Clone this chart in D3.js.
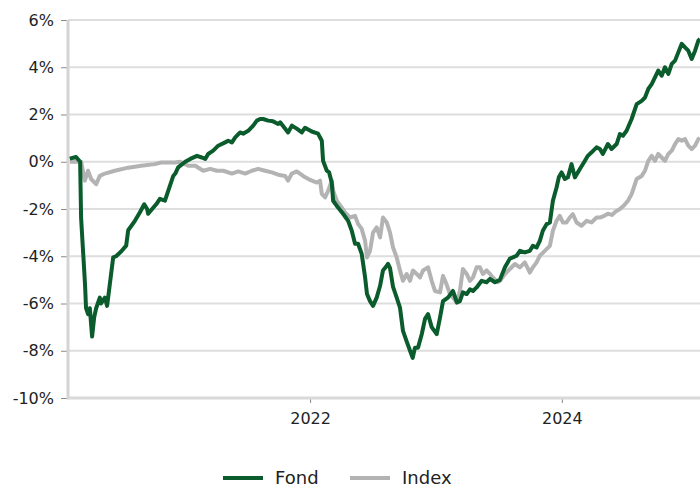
<!DOCTYPE html>
<html lang="en">
<head>
    <meta charset="UTF-8">
    <title>Fond vs Index</title>
    <script src="https://d3js.org/d3.v7.min.js"></script>
    <style>
        body { margin: 0; background: #fff; }
        .tick-label { font-family: "DejaVu Sans", Verdana, sans-serif; font-size: 16px; fill: #222; }
        .legend-text { font-family: "DejaVu Sans", Verdana, sans-serif; font-size: 18px; fill: #222; }
    </style>
</head>
<body>
    <svg id="chart"></svg>

    <script>
        // Series: [decimal year, % change]
        var fondSeries = [
            [2020.093, 0.13], [2020.143, 0.2], [2020.175, 0.0], [2020.183, -2.4], [2020.214, -5.2],
            [2020.222, -6.2], [2020.238, -6.45], [2020.252, -6.2], [2020.270, -7.4], [2020.286, -6.6],
            [2020.302, -6.2], [2020.331, -5.75], [2020.341, -6.0], [2020.371, -5.75], [2020.389, -6.1],
            [2020.410, -5.2], [2020.437, -4.05], [2020.460, -4.0], [2020.500, -3.8], [2020.540, -3.55],
            [2020.556, -2.9], [2020.609, -2.5], [2020.648, -2.15], [2020.683, -1.8], [2020.706, -2.0],
            [2020.714, -2.2], [2020.754, -1.95], [2020.778, -1.8], [2020.807, -1.57], [2020.847, -1.65],
            [2020.873, -1.23], [2020.913, -0.6], [2020.929, -0.5], [2020.952, -0.24], [2021.008, 0.0],
            [2021.048, 0.12], [2021.101, 0.25], [2021.140, 0.18], [2021.167, 0.12], [2021.190, 0.33],
            [2021.230, 0.47], [2021.270, 0.68], [2021.325, 0.82], [2021.349, 0.89], [2021.379, 0.82],
            [2021.405, 1.03], [2021.444, 1.24], [2021.468, 1.19], [2021.508, 1.31], [2021.548, 1.53],
            [2021.577, 1.74], [2021.603, 1.81], [2021.627, 1.81], [2021.667, 1.74], [2021.706, 1.71],
            [2021.746, 1.6], [2021.762, 1.67], [2021.802, 1.4], [2021.825, 1.24], [2021.855, 1.53],
            [2021.894, 1.4], [2021.934, 1.24], [2021.960, 1.44], [2022.013, 1.28], [2022.063, 1.19],
            [2022.093, 0.89], [2022.103, 0.04], [2022.133, -0.38], [2022.151, -0.45], [2022.172, -0.88],
            [2022.183, -1.65], [2022.222, -1.94], [2022.262, -2.2], [2022.302, -2.5], [2022.331, -2.92],
            [2022.357, -3.47], [2022.381, -3.47], [2022.410, -3.9], [2022.437, -4.9], [2022.452, -5.6],
            [2022.476, -5.9], [2022.500, -6.1], [2022.529, -5.75], [2022.556, -5.25], [2022.579, -4.6],
            [2022.609, -4.4], [2022.619, -4.32], [2022.635, -4.5], [2022.659, -5.3], [2022.688, -5.75],
            [2022.714, -6.17], [2022.738, -7.16], [2022.767, -7.6], [2022.794, -8.0], [2022.815, -8.3],
            [2022.833, -7.87], [2022.857, -7.87], [2022.887, -7.3], [2022.913, -6.65], [2022.937, -6.45],
            [2022.966, -7.0], [2023.006, -7.3], [2023.032, -6.6], [2023.056, -5.9], [2023.095, -5.75],
            [2023.135, -5.47], [2023.167, -5.96], [2023.190, -5.9], [2023.214, -5.53], [2023.244, -5.6],
            [2023.270, -5.4], [2023.294, -5.47], [2023.323, -5.32], [2023.363, -5.04], [2023.402, -5.1],
            [2023.429, -4.96], [2023.468, -5.1], [2023.508, -5.0], [2023.548, -4.47], [2023.587, -4.1],
            [2023.611, -4.05], [2023.640, -3.98], [2023.667, -3.77], [2023.706, -3.84], [2023.746, -3.77],
            [2023.770, -3.56], [2023.799, -3.63], [2023.825, -3.35], [2023.849, -2.92], [2023.879, -2.64],
            [2023.905, -2.57], [2023.929, -1.65], [2023.958, -1.09], [2023.976, -0.66], [2023.998, -0.45],
            [2024.024, -0.73], [2024.048, -0.66], [2024.077, -0.1], [2024.103, -0.66], [2024.143, -0.31],
            [2024.183, 0.04], [2024.206, 0.25], [2024.236, 0.4], [2024.275, 0.61], [2024.302, 0.54],
            [2024.325, 0.33], [2024.365, 0.75], [2024.394, 0.54], [2024.434, 0.75], [2024.460, 1.17],
            [2024.484, 1.1], [2024.513, 1.31], [2024.553, 1.81], [2024.593, 2.44], [2024.633, 2.58],
            [2024.659, 2.72], [2024.685, 3.08], [2024.712, 3.29], [2024.738, 3.57], [2024.764, 3.86],
            [2024.791, 3.64], [2024.817, 4.0], [2024.844, 3.72], [2024.871, 4.14], [2024.897, 4.28],
            [2024.923, 4.63], [2024.950, 4.99], [2024.976, 4.84], [2025.002, 4.7], [2025.029, 4.35],
            [2025.056, 4.7], [2025.082, 5.13], [2025.095, 5.2]
        ];

        var indexSeries = [
            [2020.095, 0.0], [2020.183, 0.0], [2020.212, -0.8], [2020.238, -0.38], [2020.262, -0.73],
            [2020.302, -0.95], [2020.331, -0.6], [2020.371, -0.5], [2020.450, -0.38], [2020.556, -0.25],
            [2020.659, -0.17], [2020.767, -0.1], [2020.817, -0.03], [2020.929, -0.03], [2020.968, 0.0],
            [2021.032, -0.17], [2021.087, -0.17], [2021.151, -0.38], [2021.206, -0.3], [2021.260, -0.38],
            [2021.310, -0.38], [2021.379, -0.5], [2021.429, -0.41], [2021.484, -0.5], [2021.537, -0.38],
            [2021.587, -0.3], [2021.643, -0.38], [2021.696, -0.45], [2021.746, -0.55], [2021.802, -0.6],
            [2021.825, -0.8], [2021.855, -0.5], [2021.894, -0.41], [2021.944, -0.6], [2022.000, -0.77],
            [2022.053, -0.88], [2022.079, -0.8], [2022.093, -1.36], [2022.119, -1.51], [2022.143, -1.23],
            [2022.172, -0.8], [2022.183, -1.23], [2022.212, -1.65], [2022.252, -1.94], [2022.278, -2.15],
            [2022.317, -2.36], [2022.357, -2.29], [2022.381, -2.63], [2022.410, -2.84], [2022.437, -3.35],
            [2022.452, -4.05], [2022.476, -3.77], [2022.500, -3.0], [2022.529, -2.78], [2022.556, -3.2],
            [2022.579, -2.36], [2022.609, -2.57], [2022.635, -3.0], [2022.659, -3.63], [2022.688, -4.05],
            [2022.714, -4.6], [2022.738, -5.04], [2022.767, -4.75], [2022.794, -5.04], [2022.817, -4.6],
            [2022.847, -4.75], [2022.873, -4.9], [2022.897, -4.6], [2022.937, -4.47], [2022.966, -5.04],
            [2022.992, -5.47], [2023.032, -5.53], [2023.056, -4.83], [2023.085, -5.2], [2023.111, -5.6],
            [2023.135, -5.75], [2023.164, -5.96], [2023.190, -5.47], [2023.214, -4.54], [2023.244, -4.75],
            [2023.270, -5.04], [2023.294, -4.9], [2023.323, -4.47], [2023.349, -4.47], [2023.373, -4.75],
            [2023.402, -4.6], [2023.429, -4.75], [2023.452, -4.9], [2023.492, -5.1], [2023.508, -5.04],
            [2023.548, -4.75], [2023.587, -4.54], [2023.627, -4.33], [2023.667, -4.47], [2023.706, -4.26],
            [2023.746, -4.69], [2023.770, -4.47], [2023.799, -4.26], [2023.825, -3.98], [2023.865, -3.77],
            [2023.905, -3.56], [2023.929, -2.92], [2023.958, -2.5], [2023.984, -2.29], [2024.008, -2.57],
            [2024.037, -2.57], [2024.063, -2.36], [2024.087, -2.22], [2024.117, -2.57], [2024.156, -2.71],
            [2024.196, -2.5], [2024.236, -2.57], [2024.275, -2.36], [2024.302, -2.36], [2024.333, -2.3],
            [2024.365, -2.2], [2024.397, -2.25], [2024.429, -2.1], [2024.460, -2.0], [2024.492, -1.85],
            [2024.524, -1.65], [2024.553, -1.37], [2024.593, -0.73], [2024.633, -0.6], [2024.659, -0.38],
            [2024.685, 0.04], [2024.712, 0.25], [2024.738, 0.04], [2024.764, 0.33], [2024.791, 0.18],
            [2024.817, 0.04], [2024.844, 0.33], [2024.871, 0.47], [2024.897, 0.75], [2024.923, 0.96],
            [2024.950, 0.89], [2024.976, 0.96], [2025.002, 0.68], [2025.029, 0.54], [2025.056, 0.68],
            [2025.082, 0.96], [2025.095, 1.0]
        ];

        var yTicks = [-10, -8, -6, -4, -2, 0, 2, 4, 6];
        var xTickYears = [2022, 2024];
        var xRangeYears = [2020.079, 2025.095];
        var seriesNames = ['Fond', 'Index'];
        var seriesColors = ['#0a5c2c', '#b3b3b3'];

        // decimal year -> Date
        function yearToDate(y) {
            var yr = Math.floor(y);
            var start = Date.UTC(yr, 0, 1), end = Date.UTC(yr + 1, 0, 1);
            return new Date(start + (y - yr) * (end - start));
        }

        var margin = { top: 20, right: 0, bottom: 90, left: 68 };
        var fullWidth = 700, fullHeight = 488;
        var width = fullWidth - margin.left - margin.right;
        var height = fullHeight - margin.top - margin.bottom;

        var svg = d3.select('#chart')
            .attr('width', fullWidth)
            .attr('height', fullHeight)
            .append('g')
            .attr('transform', 'translate(' + margin.left + ',' + margin.top + ')');

        var xScale = d3.scaleUtc()
            .domain(xRangeYears.map(yearToDate))
            .range([0, width]);

        var yScale = d3.scaleLinear()
            .domain([-10, 6])
            .range([height, 0]);

        // horizontal gridlines
        svg.append('g')
            .selectAll('line')
            .data(yTicks.filter(d => d !== -10))
            .enter()
            .append('line')
            .attr('x1', 0)
            .attr('x2', width)
            .attr('y1', d => yScale(d))
            .attr('y2', d => yScale(d))
            .attr('stroke', '#dedede')
            .attr('stroke-width', 2);

        // y axis
        var yAxis = svg.append('g')
            .call(d3.axisLeft(yScale).tickValues(yTicks).tickSize(7).tickPadding(7).tickFormat(d => d + '%'));
        yAxis.select('.domain').remove();
        yAxis.selectAll('.tick line').attr('stroke', '#888').attr('stroke-width', 1);
        yAxis.selectAll('.tick text').attr('class', 'tick-label').attr('fill', null);

        // x axis
        var xAxis = svg.append('g')
            .attr('transform', 'translate(0,' + height + ')')
            .call(d3.axisBottom(xScale)
                .tickValues(xTickYears.map(y => new Date(Date.UTC(y, 0, 1))))
                .tickSize(5).tickPadding(10)
                .tickFormat(d3.utcFormat('%Y')));
        xAxis.select('.domain').remove();
        xAxis.selectAll('.tick line').attr('stroke', '#888').attr('stroke-width', 1);
        xAxis.selectAll('.tick text').attr('class', 'tick-label').attr('fill', null);

        // axis lines (light, thick)
        svg.append('line')
            .attr('x1', 0).attr('x2', 0)
            .attr('y1', 0).attr('y2', height + 1.5)
            .attr('stroke', '#d4d4d4').attr('stroke-width', 3);
        svg.append('line')
            .attr('x1', 0).attr('x2', width)
            .attr('y1', height).attr('y2', height)
            .attr('stroke', '#d9d9d9').attr('stroke-width', 3);

        svg.append('clipPath')
            .attr('id', 'plot-clip')
            .append('rect')
            .attr('x', 0).attr('y', -5)
            .attr('width', width).attr('height', height + 10);

        var line = d3.line()
            .x(d => xScale(yearToDate(d[0])))
            .y(d => yScale(d[1]));

        // Index first so Fond sits on top
        [indexSeries, fondSeries].forEach(function (series, i) {
            svg.append('path')
                .datum(series)
                .attr('clip-path', 'url(#plot-clip)')
                .attr('fill', 'none')
                .attr('stroke', i === 0 ? seriesColors[1] : seriesColors[0])
                .attr('stroke-width', 4)
                .attr('stroke-linejoin', 'round')
                .attr('d', line);
        });

        // legend
        var legendX = [223, 350];
        var legend = d3.select('#chart').append('g')
            .attr('transform', 'translate(0,478)');
        var legendItems = legend.selectAll('g')
            .data(seriesNames)
            .enter()
            .append('g')
            .attr('transform', (d, i) => 'translate(' + legendX[i] + ',0)');
        legendItems.append('line')
            .attr('x1', 0).attr('x2', 40)
            .attr('stroke', (d, i) => seriesColors[i])
            .attr('stroke-width', 4);
        legendItems.append('text')
            .attr('class', 'legend-text')
            .attr('x', 52)
            .attr('dy', '0.36em')
            .text(d => d);
    </script>
</body>
</html>
